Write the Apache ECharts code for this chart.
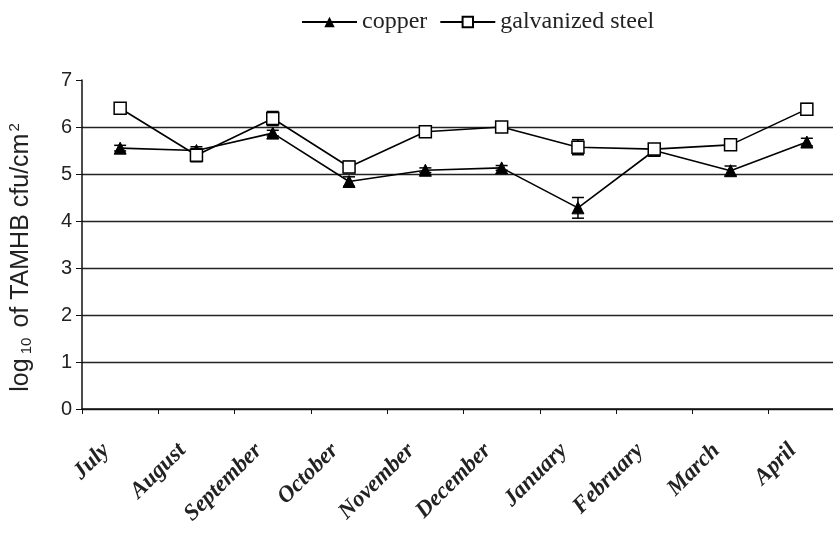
<!DOCTYPE html>
<html>
<head>
<meta charset="utf-8">
<script src="https://cdn.jsdelivr.net/npm/echarts@6/dist/echarts.min.js"></script>
<style>
  html, body { margin: 0; padding: 0; background: #fff; }
  #chart { width: 833px; height: 536px; }
</style>
</head>
<body>
<div id="chart"></div>
<script>
// months along the x axis
const months = ['July', 'August', 'September', 'October', 'November', 'December', 'January', 'February', 'March', 'April'];
// log10 TAMHB cfu/cm2
const copper = [5.55, 5.5, 5.87, 4.84, 5.08, 5.13, 4.28, 5.5, 5.07, 5.68];
const galvanized = [6.4, 5.4, 6.18, 5.15, 5.9, 6.0, 5.57, 5.53, 5.62, 6.38];
// error bar half-widths (estimated)
const copperErr = [0.06, 0.08, 0.06, 0.1, 0.05, 0.05, 0.22, 0.05, 0.1, 0.08];
const galvanizedErr = [0.05, 0.14, 0.15, 0.12, 0.05, 0.05, 0.16, 0.05, 0.05, 0.12];
const yTicks = [0, 1, 2, 3, 4, 5, 6, 7];

const chart = echarts.init(document.getElementById('chart'), null, { renderer: 'canvas' });

// whiskers drawn through the axes' own coordinate system
function errorSeries(values, errs) {
  return {
    type: 'custom',
    silent: true,
    z: 1,
    data: values.map((v, i) => [i, v - errs[i], v + errs[i]]),
    renderItem: function (params, api) {
      const lo = api.coord([api.value(0), api.value(1)]);
      const hi = api.coord([api.value(0), api.value(2)]);
      const w = 6;
      const st = { stroke: '#000', lineWidth: 1.5 };
      return {
        type: 'group',
        children: [
          { type: 'line', shape: { x1: lo[0], y1: lo[1], x2: hi[0], y2: hi[1] }, style: st },
          { type: 'line', shape: { x1: lo[0] - w, y1: lo[1], x2: lo[0] + w, y2: lo[1] }, style: st },
          { type: 'line', shape: { x1: hi[0] - w, y1: hi[1], x2: hi[0] + w, y2: hi[1] }, style: st }
        ]
      };
    }
  };
}

const option = {
  backgroundColor: '#ffffff',
  animation: false,
  legend: {
    top: 5,
    left: 296,
    itemGap: 12,
    itemWidth: 55,
    itemHeight: 13,
    textStyle: { fontFamily: 'Liberation Serif', fontSize: 24, color: '#222', padding: [0, 0, 0, 0] },
    data: ['copper', 'galvanized steel']
  },
  grid: { left: 82, right: -12, top: 80, bottom: 127, containLabel: false, outerBoundsMode: 'none' },
  xAxis: {
    type: 'category',
    data: months,
    boundaryGap: true,
    axisLine: { lineStyle: { color: '#111', width: 1.5 } },
    axisTick: { show: true, length: 5, lineStyle: { color: '#111' } },
    axisLabel: {
      rotate: 45,
      margin: 24,
      padding: [0, 20, 0, 0],
      interval: 0,
      fontFamily: 'Liberation Serif',
      fontStyle: 'italic',
      fontWeight: 'bold',
      fontSize: 23,
      color: '#222'
    }
  },
  yAxis: {
    type: 'value',
    min: yTicks[0],
    max: yTicks[yTicks.length - 1],
    interval: 1,
    name: '{a|log}{sub| 10}{a| of TAMHB cfu/cm}{sup|2}',
    nameLocation: 'middle',
    nameGap: 46,
    nameRotate: 90,
    nameTextStyle: {
      padding: [0, 26, 0, 0],
      rich: {
        a: { fontFamily: 'Liberation Sans', fontSize: 25, color: '#222' },
        sub: { fontFamily: 'Liberation Sans', fontSize: 15, color: '#222', padding: [10, 3, 0, 0] },
        sup: { fontFamily: 'Liberation Sans', fontSize: 15, color: '#222', padding: [0, 0, 14, 2] }
      }
    },
    axisLine: { show: true, lineStyle: { color: '#111', width: 1.5 } },
    axisTick: { show: true, length: 6, lineStyle: { color: '#111' } },
    axisLabel: { fontFamily: 'Liberation Sans', fontSize: 20, color: '#222', margin: 10 },
    splitLine: { show: true, showMaxLine: false, lineStyle: { color: '#222', width: 1.4 } }
  },
  series: [
    errorSeries(copper, copperErr),
    errorSeries(galvanized, galvanizedErr),
    {
      name: 'copper',
      type: 'line',
      data: copper,
      z: 3,
      symbol: 'triangle',
      symbolSize: 12,
      lineStyle: { color: '#000', width: 1.6 },
      itemStyle: { color: '#000', borderColor: '#000' }
    },
    {
      name: 'galvanized steel',
      type: 'line',
      data: galvanized,
      z: 3,
      symbol: 'rect',
      symbolSize: 12,
      lineStyle: { color: '#000', width: 1.6 },
      itemStyle: { color: '#fff', borderColor: '#000', borderWidth: 1.5 }
    }
  ]
};

chart.setOption(option);
</script>
</body>
</html>
